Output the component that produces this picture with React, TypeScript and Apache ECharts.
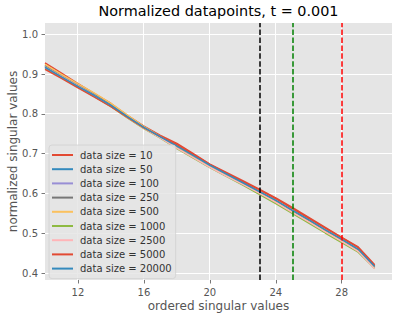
import React, { useEffect, useRef } from "react";
import * as echarts from "echarts";

const xValues = [10, 11, 12, 13, 14, 15, 16, 17, 18, 19, 20, 21, 22, 23, 24, 25, 26, 27, 28, 29, 30];

const seriesNames = [
  "data size = 10",
  "data size = 50",
  "data size = 100",
  "data size = 250",
  "data size = 500",
  "data size = 1000",
  "data size = 2500",
  "data size = 5000",
  "data size = 20000",
];

const s10 = [0.928, 0.902, 0.876, 0.851, 0.826, 0.796, 0.769, 0.746, 0.726, 0.700, 0.674, 0.653, 0.632, 0.611, 0.589, 0.565, 0.540, 0.515, 0.490, 0.466, 0.421];
const s50 = [0.922, 0.897, 0.873, 0.849, 0.823, 0.794, 0.767, 0.743, 0.719, 0.695, 0.671, 0.649, 0.627, 0.605, 0.582, 0.557, 0.533, 0.508, 0.484, 0.459, 0.417];
const s100 = [0.919, 0.895, 0.871, 0.847, 0.821, 0.792, 0.765, 0.741, 0.717, 0.693, 0.669, 0.647, 0.626, 0.603, 0.580, 0.555, 0.531, 0.506, 0.482, 0.457, 0.413];
const s250 = [0.921, 0.896, 0.872, 0.848, 0.822, 0.793, 0.766, 0.742, 0.718, 0.694, 0.670, 0.648, 0.626, 0.604, 0.581, 0.556, 0.532, 0.507, 0.483, 0.458, 0.415];
const s500 = [0.924, 0.899, 0.875, 0.852, 0.826, 0.797, 0.768, 0.743, 0.718, 0.693, 0.668, 0.646, 0.624, 0.602, 0.579, 0.554, 0.530, 0.505, 0.481, 0.456, 0.414];
const s1000 = [0.916, 0.892, 0.867, 0.843, 0.818, 0.790, 0.763, 0.739, 0.713, 0.689, 0.665, 0.643, 0.621, 0.598, 0.575, 0.550, 0.526, 0.501, 0.477, 0.453, 0.412];
const s2500 = [0.918, 0.894, 0.870, 0.846, 0.820, 0.791, 0.764, 0.740, 0.714, 0.690, 0.666, 0.644, 0.623, 0.601, 0.578, 0.553, 0.529, 0.504, 0.480, 0.455, 0.411];
const s5000 = [0.912, 0.889, 0.865, 0.842, 0.818, 0.791, 0.765, 0.743, 0.723, 0.698, 0.673, 0.651, 0.630, 0.609, 0.587, 0.562, 0.538, 0.513, 0.489, 0.464, 0.419];
const s20000 = [0.917, 0.893, 0.869, 0.846, 0.821, 0.793, 0.766, 0.742, 0.719, 0.695, 0.671, 0.649, 0.627, 0.605, 0.583, 0.558, 0.534, 0.509, 0.485, 0.460, 0.417];

const allSeries = [s10, s50, s100, s250, s500, s1000, s2500, s5000, s20000];
const colors = ["#E24A33", "#348ABD", "#988ED5", "#777777", "#FBC15E", "#8EBA42", "#FFB5B8", "#E24A33", "#348ABD"];

const xTicks = [12, 16, 20, 24, 28];
const yTicks = [0.4, 0.5, 0.6, 0.7, 0.8, 0.9, 1.0];
const xRange = [10, 31.05];
const yRange = [0.383, 1.028];

const vLines = [
  { x: 23, color: "#000000" },
  { x: 25, color: "#008000" },
  { x: 28, color: "#FF0000" },
];

const FONT = "DejaVu Sans";

export default function App() {
  const ref = useRef<HTMLDivElement>(null);
  useEffect(() => {
    document.body.style.margin = "0";
    const chart = echarts.init(ref.current!, null, { renderer: "svg" });
    const lineSeries = allSeries.map((vals, i) => ({
      name: seriesNames[i],
      type: "line",
      data: vals.map((v, j) => [xValues[j], v]),
      showSymbol: false,
      symbol: "none",
      lineStyle: { color: colors[i], width: 1.5 },
      itemStyle: { color: colors[i] },
      z: 3,
      silent: true,
    }));
    const gridDefs = [
      ...xTicks.map((x) => [0, x]),
      ...yTicks.map((y) => [1, y]),
    ];
    const gridSeries = {
      type: "custom",
      z: 2,
      silent: true,
      clip: false,
      encode: { x: -1, y: -1 },
      data: gridDefs,
      renderItem: (params: any, api: any) => {
        const kind = api.value(0);
        const v = api.value(1);
        if (kind === 0) {
          const p1 = api.coord([v, yRange[1]]);
          const p2 = api.coord([v, yRange[0]]);
          const x = Math.round(p1[0] - 0.5);
          return {
            type: "rect",
            shape: { x: x, y: p1[1], width: 1, height: p2[1] - p1[1] },
            style: { fill: "#ffffff" },
            silent: true,
          };
        }
        const p1 = api.coord([xRange[0], v]);
        const p2 = api.coord([xRange[1], v]);
        const y = Math.round(p1[1] - 0.5);
        return {
          type: "rect",
          shape: { x: p1[0], y: y, width: p2[0] - p1[0], height: 1 },
          style: { fill: "#ffffff" },
          silent: true,
        };
      },
    };
    const vSeries = {
      type: "line",
      data: [],
      z: 4,
      silent: true,
      markLine: {
        silent: true,
        symbol: "none",
        label: { show: false },
        data: vLines.map((l) => ({
          xAxis: l.x,
          lineStyle: { color: l.color, width: 1.5, type: [5.5, 2.4] },
        })),
      },
    };
    chart.setOption({
      animation: false,
      backgroundColor: "#ffffff",
      textStyle: { fontFamily: FONT },
      graphic: [
        {
          type: "text",
          x: 218.5,
          y: 4,
          style: {
            text: "Normalized datapoints, t = 0.001",
            textAlign: "center",
            fontFamily: FONT,
            fontSize: 14.4,
            fill: "#000000",
          },
        },
      ],
      grid: {
        left: 45,
        right: 7,
        top: 23,
        bottom: 40,
        show: true,
        backgroundColor: "#E5E5E5",
        borderWidth: 0,
        outerBoundsMode: "none",
        containLabel: false,
      },
      legend: {
        orient: "vertical",
        left: 49,
        top: 145,
        z: 10,
        padding: [4, 4, 4, 3],
        itemWidth: 21,
        itemHeight: 2,
        itemGap: 2.2,
        icon: "rect",
        backgroundColor: "rgba(229,229,229,0.85)",
        borderColor: "#d0d0d0",
        borderWidth: 0.8,
        borderRadius: 3,
        textStyle: { fontFamily: FONT, fontSize: 10, color: "#333333", lineHeight: 12, padding: [0, 0, 0, 2] },
        data: seriesNames,
      },
      xAxis: {
        type: "value",
        min: xRange[0],
        max: xRange[1],
        name: "ordered singular values",
        nameLocation: "middle",
        nameGap: 20,
        nameMoveOverlap: false,
        nameTextStyle: { fontFamily: FONT, fontSize: 12, color: "#555555" },
        axisLine: { show: false },
        axisTick: { show: true, customValues: xTicks, length: 3.5, lineStyle: { color: "#555555", width: 0.8 } },
        axisLabel: { customValues: xTicks, margin: 7, fontFamily: FONT, fontSize: 10, color: "#555555" },
        splitLine: { show: false },
      },
      yAxis: {
        type: "value",
        min: yRange[0],
        max: yRange[1],
        name: "normalized singular values",
        nameLocation: "middle",
        nameGap: 26,
        nameMoveOverlap: false,
        nameTextStyle: { fontFamily: FONT, fontSize: 12, color: "#555555" },
        axisLine: { show: false },
        axisTick: { show: true, customValues: yTicks, length: 3.5, lineStyle: { color: "#555555", width: 0.8 } },
        axisLabel: {
          customValues: yTicks,
          margin: 7,
          fontFamily: FONT,
          fontSize: 10,
          color: "#555555",
          formatter: (v: number) => v.toFixed(1),
        },
        splitLine: { show: false },
      },
      series: [gridSeries, ...lineSeries, vSeries],
    });
    return () => chart.dispose();
  }, []);
  return <div ref={ref} style={{ position: "absolute", left: 0, top: 0, width: 399, height: 320 }} />;
}
